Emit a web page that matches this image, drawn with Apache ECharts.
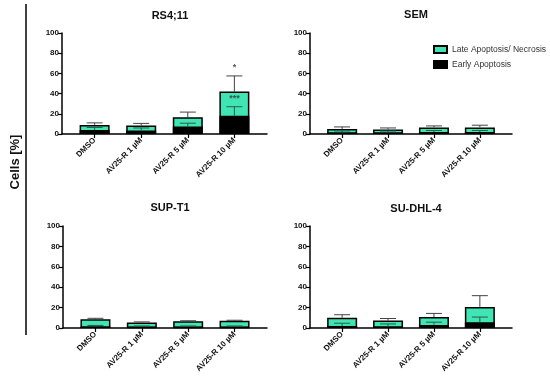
<!DOCTYPE html>
<html><head><meta charset="utf-8">
<script src="https://cdn.jsdelivr.net/npm/echarts@6/dist/echarts.min.js"></script>
<style>html,body{margin:0;padding:0;background:#fff}#c{width:550px;height:380px}</style>
</head><body><div id="c"></div>
<script>
const categories = ['DMSO', 'AV25-R 1 µM', 'AV25-R 5 µM', 'AV25-R 10 µM'];
const panelTitles = ['RS4;11', 'SEM', 'SUP-T1', 'SU-DHL-4'];
const yTicks = [0, 20, 40, 60, 80, 100];
// Early apoptosis (bottom, black) mean and SD per panel
const earlyRS4 = [4, 3.5, 7.5, 18];
const earlyErrRS4 = [2.5, 2.5, 3.2, 9];
const earlySEM = [1.5, 1.5, 2, 2];
const earlyErrSEM = [1.5, 1.5, 1.5, 1.5];
const earlySUPT1 = [1.5, 1, 1, 1];
const earlyErrSUPT1 = [1, 1, 1, 1];
const earlySUDHL4 = [2, 1.5, 3, 5.7];
const earlyErrSUDHL4 = [2.7, 2.5, 2.7, 5];
// Late apoptosis / necrosis (stacked on top, green) mean and SD of total
const lateRS4 = [5, 5, 9.2, 24];
const lateErrRS4 = [2, 2, 5, 15.5];
const lateSEM = [3.5, 3, 4.5, 4.5];
const lateErrSEM = [2, 1.5, 1.5, 2.2];
const lateSUPT1 = [7, 4.5, 5.5, 6];
const lateErrSUPT1 = [1, 0.5, 0.6, 0.6];
const lateSUDHL4 = [8, 5.8, 7.7, 15];
const lateErrSUDHL4 = [3, 2, 3.6, 11];
// significance marks (panel index, category index, value, text)
const sigPanel = [0, 0];
const sigCat = [3, 3];
const sigValue = [66, 35];
const sigText = ['*', '***'];

const early = [earlyRS4, earlySEM, earlySUPT1, earlySUDHL4];
const earlyErr = [earlyErrRS4, earlyErrSEM, earlyErrSUPT1, earlyErrSUDHL4];
const late = [lateRS4, lateSEM, lateSUPT1, lateSUDHL4];
const lateErr = [lateErrRS4, lateErrSEM, lateErrSUPT1, lateErrSUDHL4];

const GREEN = '#3fe6b3';
const FONT = 'Liberation Sans, Arial, sans-serif';
const grids = [
  {left: 62, top: 33, width: 205, height: 101},
  {left: 310, top: 33, width: 202, height: 101},
  {left: 63, top: 226, width: 204, height: 102},
  {left: 310, top: 226, width: 202, height: 102}
];
const titlePos = [[165, 9], [411, 8], [165, 201], [411, 202]];

const xAxes = [], yAxes = [], series = [], titles = [];
grids.forEach((g, i) => {
  titles.push({text: panelTitles[i], left: titlePos[i][0], top: titlePos[i][1] - 4, textAlign: 'center',
    textStyle: {fontFamily: FONT, fontSize: 11, fontWeight: 'bold', color: '#111'}});
  xAxes.push({gridIndex: i, type: 'value', min: -0.7, max: 3.7,
    axisLine: {show: true, onZero: false, lineStyle: {color: '#000', width: 1.5}},
    axisTick: {show: true, length: 4, lineStyle: {color: '#000', width: 1.2}, customValues: [0, 1, 2, 3]},
    axisLabel: {show: true, rotate: 45, fontFamily: FONT, fontSize: 8, fontWeight: 'bold', color: '#111', margin: 5,
      customValues: [0, 1, 2, 3], formatter: v => categories[Math.round(v)]},
    splitLine: {show: false}});
  yAxes.push({gridIndex: i, type: 'value', min: 0, max: 100, interval: 20,
    axisLine: {show: true, onZero: false, lineStyle: {color: '#000', width: 1.5}},
    axisTick: {show: true, length: 4, lineStyle: {color: '#000', width: 1.2}},
    axisLabel: {fontFamily: FONT, fontSize: 8, fontWeight: 'bold', color: '#111', margin: 3},
    splitLine: {show: false}});
  // total bar (late stacked on early) drawn first, early bar overlaid at the bottom
  series.push({name: 'Late Apoptosis/ Necrosis', type: 'bar', xAxisIndex: i, yAxisIndex: i, barWidth: 30, barGap: '-100%',
    itemStyle: {color: GREEN, borderColor: '#000', borderWidth: 1.5},
    data: late[i].map((v, k) => [k, v + early[i][k]]), z: 2});
  series.push({name: 'Early Apoptosis', type: 'bar', xAxisIndex: i, yAxisIndex: i, barWidth: 30, barGap: '-100%',
    itemStyle: {color: '#000', borderColor: '#000', borderWidth: 1.5},
    data: early[i].map((v, k) => [k, v]), z: 3});
  // error bars: [x, base, sd, kind]
  const errData = [];
  early[i].forEach((v, k) => errData.push([k, v, earlyErr[i][k], 0]));
  late[i].forEach((v, k) => errData.push([k, v + early[i][k], lateErr[i][k], 1]));
  series.push({type: 'custom', xAxisIndex: i, yAxisIndex: i, z: 5, silent: true,
    data: errData,
    renderItem: (params, api) => {
      const x = api.value(0), b = api.value(1), sd = api.value(2), kind = api.value(3);
      const p0 = api.coord([x, b]);
      const p1 = api.coord([x, b + sd]);
      const half = 8;
      const col = kind === 1 ? '#444' : '#2d5a4c';
      return {type: 'group', children: [
        {type: 'line', shape: {x1: p0[0], y1: p0[1], x2: p1[0], y2: p1[1]}, style: {stroke: col, lineWidth: 1}},
        {type: 'line', shape: {x1: p1[0] - half, y1: p1[1], x2: p1[0] + half, y2: p1[1]}, style: {stroke: col, lineWidth: 1}}
      ]};
    }});
  const sd = [];
  sigPanel.forEach((p, k) => { if (p === i) sd.push({value: [sigCat[k], sigValue[k]], txt: sigText[k]}); });
  if (sd.length) {
    series.push({type: 'scatter', xAxisIndex: i, yAxisIndex: i, symbolSize: 0, z: 6, silent: true,
      data: sd,
      label: {show: true, position: 'inside', formatter: p => p.data.txt, fontFamily: FONT, fontSize: 9, fontWeight: 'bold', color: '#333'}});
  }
});

const chart = echarts.init(document.getElementById('c'), null, {renderer: 'canvas'});
chart.setOption({
  animation: false,
  backgroundColor: '#fff',
  title: titles,
  grid: grids,
  xAxis: xAxes,
  yAxis: yAxes,
  legend: {data: ['Late Apoptosis/ Necrosis', 'Early Apoptosis'], orient: 'vertical', left: 433, top: 45, padding: 0,
    itemWidth: 13, itemHeight: 7, itemGap: 6, icon: 'rect',
    textStyle: {fontFamily: FONT, fontSize: 8.5, color: '#333', padding: [0, 0, 0, 0]}},
  graphic: [
    {type: 'line', shape: {x1: 26, y1: 4, x2: 26, y2: 335}, style: {stroke: '#000', lineWidth: 1.5}},
    {type: 'text', x: 15, y: 162, rotation: Math.PI / 2, style: {text: 'Cells [%]', font: 'bold 13px ' + FONT, fill: '#111', align: 'center', verticalAlign: 'middle'}}
  ],
  series: series
});
</script></body></html>
